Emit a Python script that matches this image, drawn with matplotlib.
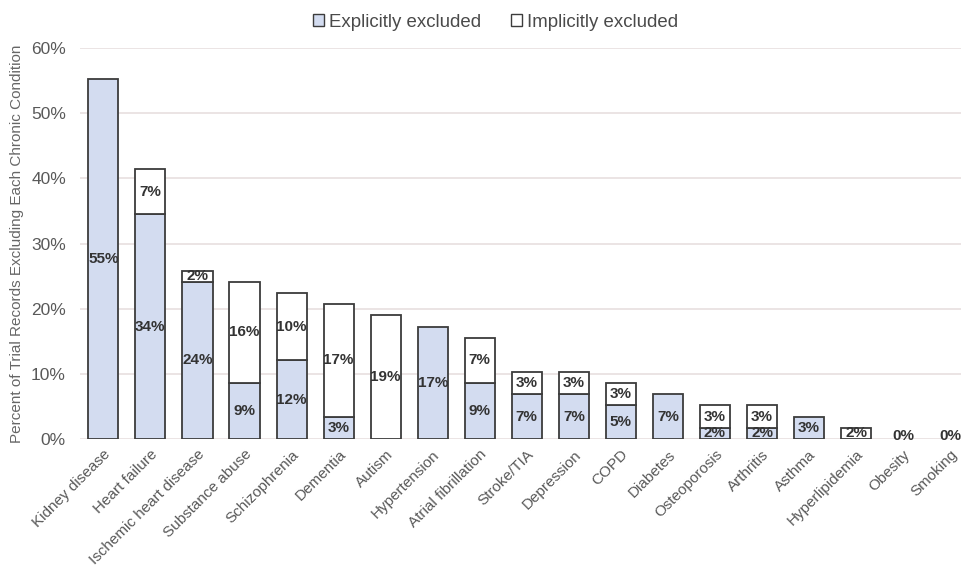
import matplotlib
matplotlib.use("Agg")
import matplotlib.pyplot as plt
from matplotlib.patches import Patch
from matplotlib.ticker import FuncFormatter

conditions = ["Kidney disease", "Heart failure", "Ischemic heart disease", "Substance abuse",
              "Schizophrenia", "Dementia", "Autism", "Hypertension", "Atrial fibrillation",
              "Stroke/TIA", "Depression", "COPD", "Diabetes", "Osteoporosis", "Arthritis",
              "Asthma", "Hyperlipidemia", "Obesity", "Smoking"]
explicit = [55.17, 34.48, 24.14, 8.62, 12.07, 3.45, 0, 17.24, 8.62,
            6.90, 6.90, 5.17, 6.90, 1.72, 1.72, 3.45, 0, 0, 0]
implicit = [0, 6.90, 1.72, 15.52, 10.34, 17.24, 18.97, 0, 6.90,
            3.45, 3.45, 3.45, 0, 3.45, 3.45, 0, 1.72, 0, 0]

plt.rcParams['font.family'] = ['Liberation Sans', 'DejaVu Sans']

blue = '#d3dcf0'
edge = '#3c3c3c'
grey = '#595959'

fig = plt.figure(figsize=(9.62, 5.68), dpi=100)
ax = fig.add_axes([0.083, 0.227, 0.917, 0.6885])

x = list(range(len(conditions)))
w = 0.64
for i in x:
    if explicit[i] > 0:
        ax.bar(i, explicit[i], w, color=blue, edgecolor=edge, linewidth=1.3, zorder=3)
    if implicit[i] > 0:
        ax.bar(i, implicit[i], w, bottom=explicit[i], color='white', edgecolor=edge,
               linewidth=1.3, zorder=3)

for i in x:
    if explicit[i] > 0:
        ax.text(i, explicit[i] / 2, f"{round(explicit[i])}%", ha='center', va='center',
                fontsize=11, fontweight='bold', color='#333333', zorder=4)
    if implicit[i] > 0:
        ax.text(i, explicit[i] + implicit[i] / 2, f"{round(implicit[i])}%", ha='center',
                va='center', fontsize=11, fontweight='bold', color='#333333', zorder=4)
    if explicit[i] == 0 and implicit[i] == 0:
        ax.text(i, 0.4, "0%", ha='center', va='center', fontsize=11,
                fontweight='bold', color='#333333', zorder=4)

ax.set_xlim(-0.5, 18.25)
ax.set_ylim(0, 60)
ax.set_yticks(range(0, 61, 10))
ax.yaxis.set_major_formatter(FuncFormatter(lambda v, p: f"{int(v)}%"))
ax.grid(axis='y', color='#e8dfdf', linewidth=1.2, zorder=0)
for s in ax.spines.values():
    s.set_visible(False)
ax.tick_params(axis='both', length=0, colors=grey)
ax.tick_params(axis='y', pad=10, labelsize=12.5)
ax.set_xticks(x)
ax.set_xticklabels(conditions, rotation=45, ha='right', rotation_mode='anchor')
ax.tick_params(axis='x', pad=6, labelsize=11)
ax.set_ylabel("Percent of Trial Records Excluding Each Chronic Condition",
              fontsize=11, color='#666666', labelpad=5)

handles = [Patch(facecolor=blue, edgecolor=edge, linewidth=1.0, label='Explicitly excluded'),
           Patch(facecolor='white', edgecolor=edge, linewidth=1.0, label='Implicitly excluded')]
fig.legend(handles=handles, loc='upper center', bbox_to_anchor=(0.515, 1.005), ncol=2,
           frameon=False, fontsize=13.4, handlelength=0.6, handleheight=0.6,
           handletextpad=0.25, columnspacing=1.6, labelcolor='#4a4a4a')

fig.savefig('out.png', dpi=100)
